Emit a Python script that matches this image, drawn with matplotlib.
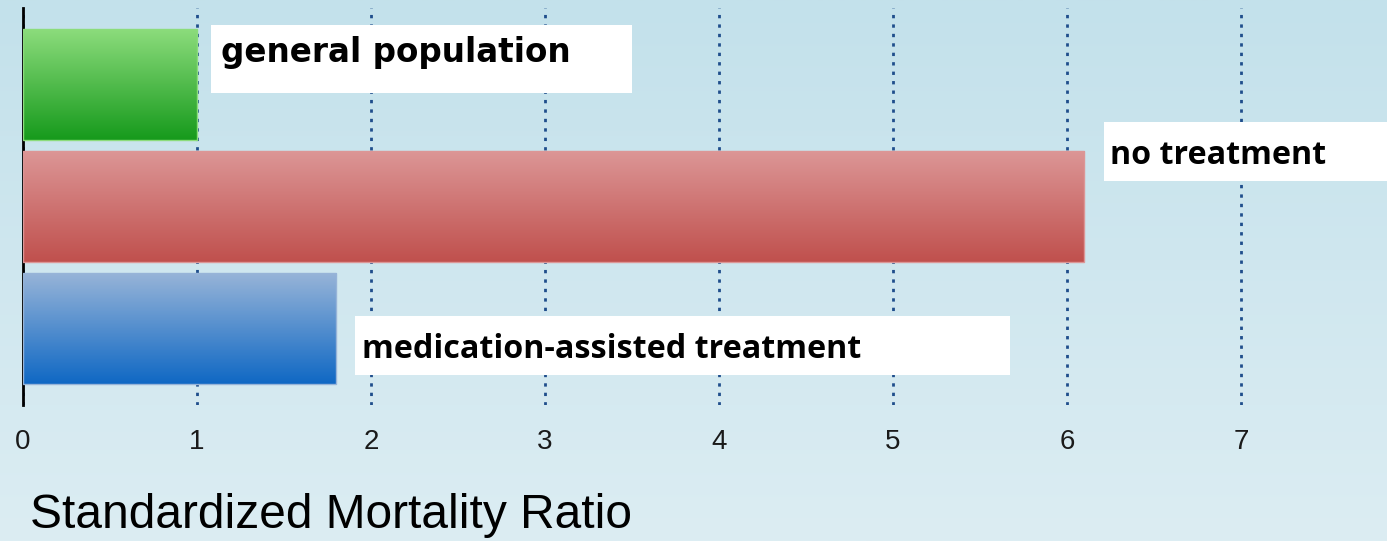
import numpy as np
import matplotlib
matplotlib.use("Agg")
import matplotlib.pyplot as plt
from matplotlib.patches import Rectangle

# ====== Dados ================================================================

categorias = ["general population", "no treatment", "medication-assisted treatment"]
smr        = [1.0, 6.1, 1.8]
cor_topo   = ["#8cdc7c", "#dc9696", "#97b4d8"]
cor_base   = ["#169a1c", "#c0504d", "#0f68c4"]
xticks     = [0, 1, 2, 3, 4, 5, 6, 7]

# caixas dos rótulos (x0, x1, y0, y1) e posição do texto
caixas = [(1.08, 3.50, -0.49, 0.07), (6.21, 8.0, 0.31, 0.79), (1.91, 5.67, 1.90, 2.38)]
textos = [(1.14, -0.265), (6.25, 0.585), (1.95, 2.175)]
fontes = [("DejaVu Sans", 23.5), ("Open Sans", 23.2), ("Open Sans", 23.2)]

# ====== Figura ===============================================================

fig = plt.figure(figsize=(13.87, 5.41), dpi=100)

# fundo em degradê
bg = fig.add_axes([0, 0, 1, 1], zorder=-10)
grad = np.linspace(0, 1, 256).reshape(-1, 1)
c0 = np.array(matplotlib.colors.to_rgb("#c3e1eb"))
c1 = np.array(matplotlib.colors.to_rgb("#dcedf3"))
img = c0 + (c1 - c0) * grad[:, :, None]
bg.imshow(img, aspect="auto", extent=[0, 1, 0, 1])
bg.axis("off")

ax = fig.add_axes([23 / 1387, 1 - 405 / 541, 1 - 23 / 1387, 397 / 541])
ax.patch.set_alpha(0)
ax.set_xlim(0, 1364 / 174)
ax.set_ylim(2.63, -0.627)

altura = 0.91
for i, v in enumerate(smr):
    bar = ax.barh(i, v, height=altura, color="none", edgecolor="none", zorder=3)[0]
    t = np.array(matplotlib.colors.to_rgb(cor_topo[i]))
    b = np.array(matplotlib.colors.to_rgb(cor_base[i]))
    g = t + (b - t) * grad[:, :, None]
    im = ax.imshow(g, aspect="auto", extent=[0, v, i + altura / 2, i - altura / 2],
                   zorder=3, interpolation="bilinear")
    im.set_clip_path(bar)
    ax.add_patch(Rectangle((0, i - altura / 2), v, altura, fill=False,
                           edgecolor=cor_topo[i], linewidth=1, zorder=4))

for (x0, x1, y0, y1), (tx, ty), (fam, fs), lab in zip(caixas, textos, fontes, categorias):
    ax.add_patch(Rectangle((x0, y0), x1 - x0, y1 - y0, facecolor="white",
                           edgecolor="none", zorder=5, clip_on=False))
    ax.text(tx, ty, lab, fontsize=fs, fontfamily=fam, fontweight="bold",
            va="center", ha="left", color="black", zorder=6)

ax.set_xticks(xticks)
ax.set_xticklabels([str(x) for x in xticks], fontsize=20,
                   fontfamily="Liberation Sans", color="#1a1a1a")
ax.tick_params(axis="x", length=0, pad=17)
ax.set_yticks([])
ax.xaxis.grid(True, linestyle=(0, (1.2, 2.2)), color="#1f4e8c", linewidth=2)
ax.set_axisbelow(True)
for s in ["top", "right", "bottom"]:
    ax.spines[s].set_visible(False)
ax.spines["left"].set_color("black")
ax.spines["left"].set_linewidth(2)

fig.text(30 / 1387, 1 - 516 / 541, "Standardized Mortality Ratio", fontsize=34.5,
         fontfamily="Liberation Sans", va="center", ha="left", color="black")

plt.savefig("out.png", dpi=100)
plt.close()
